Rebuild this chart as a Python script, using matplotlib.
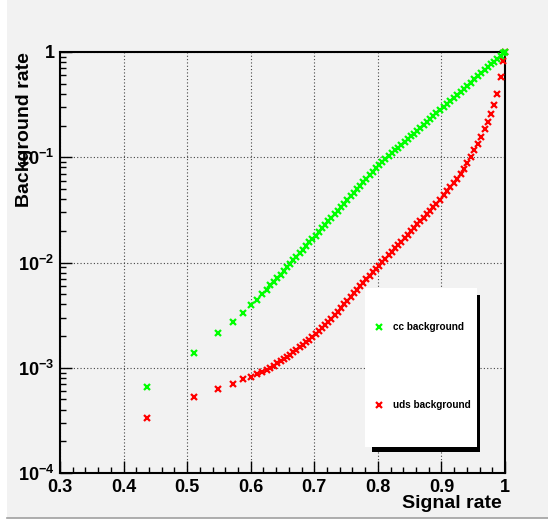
import numpy as np
import matplotlib
matplotlib.use("Agg")
import matplotlib.pyplot as plt
from matplotlib.patches import Rectangle
from matplotlib.lines import Line2D
from matplotlib.ticker import MultipleLocator, LogLocator, FuncFormatter, NullFormatter

plt.rcParams["font.family"] = ["Liberation Sans", "DejaVu Sans"]
plt.rcParams["font.weight"] = "bold"
plt.rcParams["mathtext.fontset"] = "custom"
plt.rcParams["mathtext.rm"] = "Liberation Sans:bold"
plt.rcParams["mathtext.bf"] = "Liberation Sans:bold"
plt.rcParams["mathtext.it"] = "Liberation Sans:bold"

# signal efficiency at each cut (shared by both curves)
signal_rate = [
    0.437, 0.511, 0.549, 0.572, 0.588, 0.600, 0.610, 0.618, 0.625, 0.631, 0.637,
    0.642, 0.647, 0.652, 0.657, 0.662, 0.667, 0.672, 0.677, 0.682, 0.687,
    0.692, 0.697, 0.702, 0.707, 0.712, 0.717, 0.722, 0.727, 0.732, 0.737,
    0.742, 0.747, 0.752, 0.757, 0.762, 0.767, 0.772, 0.777, 0.782, 0.787,
    0.792, 0.797, 0.802, 0.807, 0.812, 0.817, 0.822, 0.827, 0.832, 0.837,
    0.842, 0.847, 0.852, 0.857, 0.862, 0.867, 0.872, 0.877, 0.882, 0.887,
    0.892, 0.898, 0.904, 0.909, 0.914, 0.919, 0.924, 0.930, 0.935, 0.941,
    0.946, 0.952, 0.957, 0.963, 0.968, 0.973, 0.978, 0.983, 0.987, 0.993,
    0.997, 1.000,
]
cc_bkg = [
    6.6e-4, 1.39e-3, 2.12e-3, 2.70e-3, 3.31e-3, 3.92e-3, 4.43e-3, 5.00e-3, 5.52e-3, 6.07e-3, 6.57e-3,
    7.11e-3, 7.68e-3, 8.30e-3, 8.97e-3, 9.69e-3, 0.0105, 0.0113, 0.0122, 0.0132, 0.0143,
    0.0155, 0.0167, 0.0180, 0.0195, 0.0211, 0.0228, 0.0246, 0.0266, 0.0287, 0.0311,
    0.0336, 0.0363, 0.0392, 0.0424, 0.0458, 0.0495, 0.0535, 0.0578, 0.0625, 0.0675,
    0.0730, 0.0788, 0.0847, 0.0902, 0.0960, 0.102, 0.109, 0.116, 0.123, 0.131,
    0.140, 0.149, 0.158, 0.168, 0.179, 0.191, 0.203, 0.216, 0.230, 0.245,
    0.261, 0.280, 0.303, 0.323, 0.343, 0.363, 0.388, 0.417, 0.446, 0.479,
    0.512, 0.548, 0.586, 0.630, 0.673, 0.718, 0.762, 0.807, 0.857, 0.914,
    0.968, 1.000,
]
uds_bkg = [
    3.31e-4, 5.24e-4, 6.24e-4, 6.96e-4, 7.77e-4, 8.17e-4, 8.63e-4, 9.12e-4, 9.53e-4, 9.95e-4, 1.05e-3,
    1.10e-3, 1.15e-3, 1.21e-3, 1.27e-3, 1.33e-3, 1.40e-3, 1.48e-3, 1.56e-3, 1.64e-3, 1.74e-3,
    1.85e-3, 1.97e-3, 2.10e-3, 2.24e-3, 2.39e-3, 2.55e-3, 2.74e-3, 2.93e-3, 3.14e-3, 3.40e-3,
    3.69e-3, 4.01e-3, 4.35e-3, 4.72e-3, 5.12e-3, 5.53e-3, 5.96e-3, 6.43e-3, 6.92e-3, 7.46e-3,
    8.05e-3, 8.67e-3, 9.35e-3, 0.0101, 0.0109, 0.0117, 0.0126, 0.0136, 0.0147, 0.0158,
    0.0171, 0.0184, 0.0198, 0.0213, 0.0230, 0.0248, 0.0267, 0.0288, 0.0311, 0.0335,
    0.0361, 0.0392, 0.0438, 0.0478, 0.0521, 0.0565, 0.0621, 0.0693, 0.0773, 0.0876,
    0.100, 0.117, 0.134, 0.156, 0.184, 0.218, 0.259, 0.314, 0.402, 0.579,
    0.827, 1.000,
]
series_labels = ["cc background", "uds background"]
series_colors = ["#00ff00", "#ff0000"]

W, H = 548, 525
fig = plt.figure(figsize=(W / 100, H / 100), dpi=100)
fig.patch.set_facecolor("white")
# ROOT-like canvas panel
fig.add_artist(Rectangle((7 / W, 7 / H), 1 - 7 / W, 1 - 7 / H, transform=fig.transFigure,
                         fc="#f2f2f2", ec="none", zorder=-10))
fig.add_artist(Line2D([7 / W, 1], [7 / H, 7 / H], transform=fig.transFigure,
                      color="#a0a0a0", lw=1.2, zorder=-9))

ax = fig.add_axes([60 / W, (H - 473) / H, 445 / W, 421 / H])
ax.set_facecolor("#f2f2f2")

handles = []
for yv, lab, col, z in zip([cc_bkg, uds_bkg], series_labels, series_colors, [3.5, 3]):
    h, = ax.plot(signal_rate, yv, linestyle="none", marker="x", ms=4.4, mew=1.6,
                 color=col, label=lab, clip_on=False, zorder=z)
    handles.append(h)

ax.set_yscale("log")
ax.set_xlim(0.3, 1.0)
ax.set_ylim(1e-4, 1)

ax.xaxis.set_major_locator(MultipleLocator(0.1))
ax.xaxis.set_minor_locator(MultipleLocator(0.02))
ax.xaxis.set_major_formatter(FuncFormatter(lambda v, p: "%g" % round(v, 2)))
ax.yaxis.set_major_locator(LogLocator(base=10, numticks=10))
ax.yaxis.set_minor_locator(LogLocator(base=10, subs=np.arange(2, 10), numticks=20))
ax.yaxis.set_minor_formatter(NullFormatter())
ax.yaxis.set_major_formatter(FuncFormatter(
    lambda v, p: "1" if abs(v - 1) < 1e-9 else r"$10^{%d}$" % round(np.log10(v))))

ax.tick_params(which="both", direction="in", top=False, right=False, width=1, labelsize=13)
ax.tick_params(which="major", length=8.6)
ax.tick_params(which="minor", length=4.3)
ax.tick_params(axis="x", pad=4)
ax.tick_params(axis="y", pad=4)
for s in ax.spines.values():
    s.set_linewidth(1.5)
    s.set_color("black")

ax.set_axisbelow(True)
ax.grid(True, which="major", color="#444444", linestyle=(0, (1, 2)), linewidth=0.8)

fig.text(25 / W, 1 - 52 / H, "Background rate", rotation=90, ha="center", va="top",
         fontsize=14, fontweight="bold")
fig.text(502 / W, 1 - 512 / H, "Signal rate", ha="right", va="bottom",
         fontsize=14, fontweight="bold")

# legend box with solid shadow
ax.add_patch(Rectangle((372 / W, 1 - 452 / H), 108 / W, 157 / H, transform=fig.transFigure,
                       fc="black", ec="none", zorder=4, clip_on=False))
ax.add_patch(Rectangle((365 / W, 1 - 447 / H), 112 / W, 159 / H, transform=fig.transFigure,
                       fc="white", ec="none", zorder=4.5, clip_on=False))
leg = ax.legend(handles=handles, loc="upper left",
                bbox_to_anchor=(374 / W, 1 - 322 / H), bbox_transform=fig.transFigure,
                frameon=False, labelspacing=6.8, handlelength=1.0, handletextpad=0.9,
                borderpad=0, borderaxespad=0, numpoints=1,
                prop={"size": 7.2, "weight": "bold"})
leg.set_zorder(6)

fig.savefig("out.png", dpi=100)
